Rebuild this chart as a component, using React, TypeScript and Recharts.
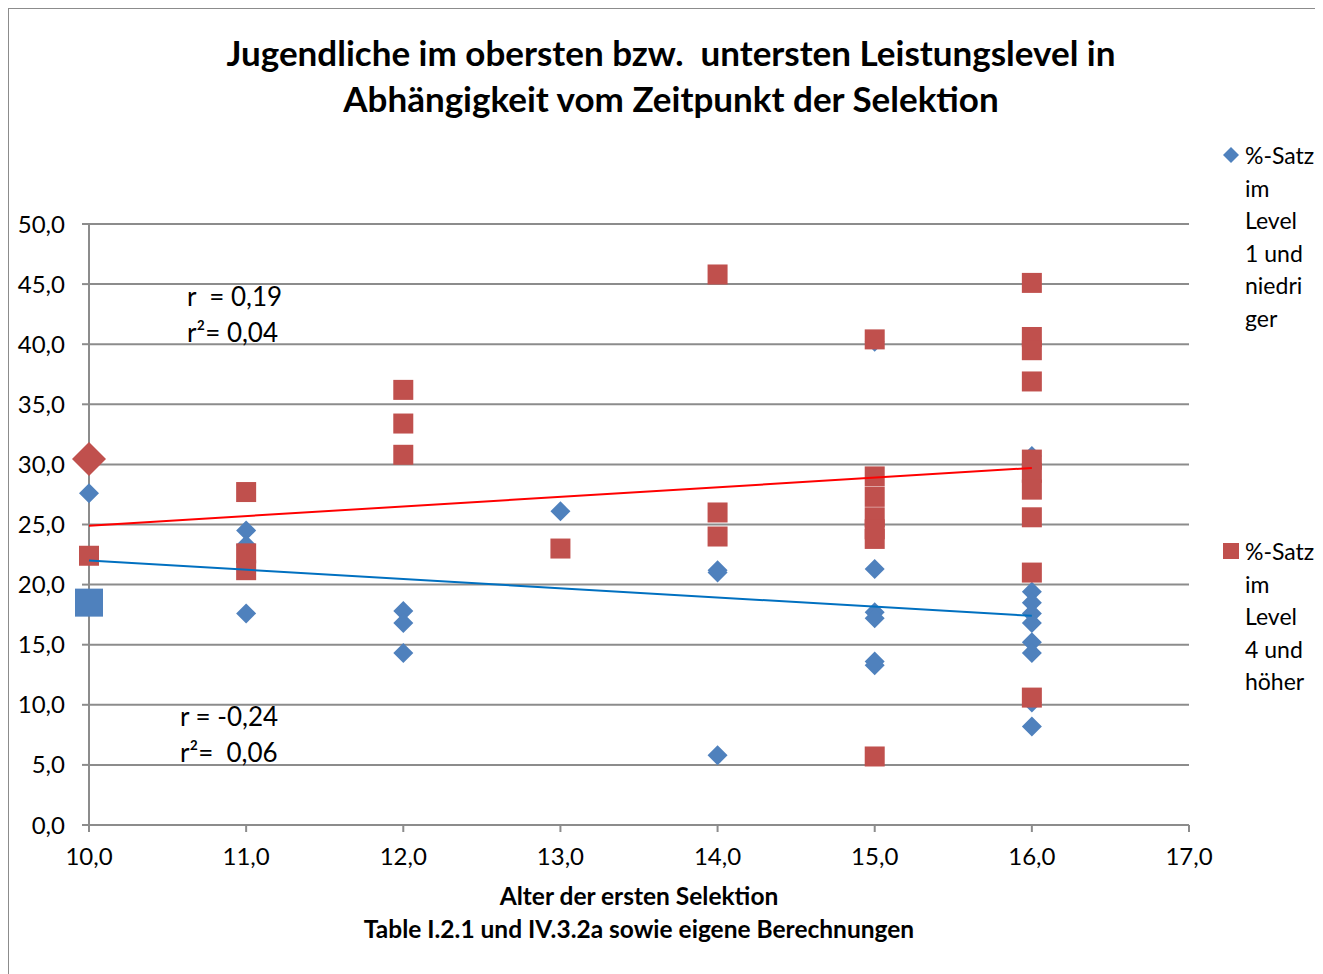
import * as React from "react";
import { ComposedChart, Scatter, XAxis, YAxis, CartesianGrid } from "recharts";

// Alter der ersten Selektion (x) und %-Satz (y), je Land ein Punkt
const level1Ages = [10, 11, 11, 11, 12, 12, 12, 13, 14, 14, 14, 15, 15, 15, 15, 15, 15, 16, 16, 16, 16, 16, 16, 16, 16, 16];
const level1Values = [27.6, 24.5, 23.3, 17.6, 17.8, 16.8, 14.3, 26.1, 21.2, 21.0, 5.8, 40.2, 21.3, 17.7, 17.2, 13.6, 13.3, 30.7, 19.4, 18.5, 17.6, 16.8, 15.2, 14.3, 10.2, 8.2];

const level4Ages = [10, 11, 11, 11, 12, 12, 12, 13, 14, 14, 14, 15, 15, 15, 15, 15, 15, 15, 16, 16, 16, 16, 16, 16, 16, 16, 16, 16];
const level4Values = [22.4, 27.7, 22.6, 21.2, 36.2, 33.4, 30.8, 23.0, 45.8, 26.0, 24.0, 40.4, 29.0, 27.3, 25.6, 24.6, 23.8, 5.7, 45.1, 40.6, 39.5, 36.9, 30.4, 29.3, 27.9, 25.6, 21.0, 10.6];

// hervorgehobene Punkte bei 10,0
const highlightLevel1 = [{ x: 10, y: 18.5 }];
const highlightLevel4 = [{ x: 10, y: 30.45 }];

// lineare Trendlinien
const trendAges = [10, 16];
const trendLevel1 = [22.0, 17.4];
const trendLevel4 = [24.9, 29.7];

const xTicks = [10, 11, 12, 13, 14, 15, 16, 17];
const yTicks = [0, 5, 10, 15, 20, 25, 30, 35, 40, 45, 50];

const BLUE = "#4F81BD";
const RED = "#C0504D";
const GRID = "#8c8c8c";
const FONT = "Lato, 'Open Sans', sans-serif";

const zip = (xs: number[], ys: number[]) => xs.map((x, i) => ({ x, y: ys[i] }));

const level1Data = zip(level1Ages, level1Values);
const level4Data = zip(level4Ages, level4Values);
const trend1Data = zip(trendAges, trendLevel1);
const trend4Data = zip(trendAges, trendLevel4);

const fmt = (v: number) => v.toFixed(1).replace(".", ",");

const diamond = (r: number, fill: string) => (props: any) => {
  const { cx, cy } = props;
  return (
    <polygon
      points={`${cx},${cy - r} ${cx + r},${cy} ${cx},${cy + r} ${cx - r},${cy}`}
      fill={fill}
    />
  );
};

const square = (s: number, fill: string) => (props: any) => {
  const { cx, cy } = props;
  return <rect x={cx - s / 2} y={cy - s / 2} width={s} height={s} fill={fill} />;
};

const noDot = () => <g />;

const legendLines1 = ["%-Satz", "im", "Level", "1 und", "niedri", "ger"];
const legendLines4 = ["%-Satz", "im", "Level", "4 und", "höher"];

export default function App() {
  const tickStyle = { fontSize: 24, fill: "#000", fontFamily: FONT };
  return (
    <div
      style={{
        position: "relative",
        width: 1315,
        height: 966,
        borderLeft: `1px solid ${GRID}`,
        borderTop: `1px solid ${GRID}`,
        background: "#fff",
        fontFamily: FONT,
        color: "#000",
        overflow: "hidden",
      }}
    >
      <div
        style={{
          position: "absolute",
          left: 162,
          top: 20,
          width: 1000,
          textAlign: "center",
          fontWeight: 700,
          fontSize: 35,
          lineHeight: "46px",
          whiteSpace: "pre",
        }}
      >
        {"Jugendliche im obersten bzw.  untersten Leistungslevel in\nAbhängigkeit vom Zeitpunkt der Selektion"}
      </div>

      <ComposedChart
        width={1314}
        height={965}
        margin={{ top: 215, right: 134, bottom: 119, left: 20 }}
        style={{ position: "absolute", left: 0, top: 0 }}
      >
        <CartesianGrid horizontal vertical={false} stroke={GRID} strokeWidth={2} />
        <XAxis
          type="number"
          dataKey="x"
          domain={[10, 17]}
          ticks={xTicks}
          tickFormatter={fmt}
          stroke={GRID}
          strokeWidth={2}
          tickSize={7}
          tickMargin={16}
          tick={tickStyle}
          height={30}
          allowDuplicatedCategory={false}
        />
        <YAxis
          type="number"
          dataKey="y"
          domain={[0, 50]}
          ticks={yTicks}
          tickFormatter={fmt}
          stroke={GRID}
          strokeWidth={2}
          tickSize={7}
          tickMargin={17}
          tick={tickStyle}
          width={60}
        />
        <Scatter data={level1Data} shape={diamond(10, BLUE)} isAnimationActive={false} />
        <Scatter data={level4Data} shape={square(20, RED)} isAnimationActive={false} />
        <Scatter data={highlightLevel4} shape={diamond(17, RED)} isAnimationActive={false} />
        <Scatter data={highlightLevel1} shape={square(28, BLUE)} isAnimationActive={false} />
        <Scatter
          data={trend4Data}
          line={{ stroke: "#FF0000", strokeWidth: 2 }}
          shape={noDot}
          isAnimationActive={false}
        />
        <Scatter
          data={trend1Data}
          line={{ stroke: "#0070C0", strokeWidth: 2 }}
          shape={noDot}
          isAnimationActive={false}
        />
      </ComposedChart>

      <div style={{ position: "absolute", left: 178, top: 269, fontSize: 26, lineHeight: "36px", whiteSpace: "pre" }}>
        {"r  = 0,19\nr²= 0,04"}
      </div>
      <div style={{ position: "absolute", left: 171, top: 689, fontSize: 26, lineHeight: "36px", whiteSpace: "pre" }}>
        {"r = -0,24\nr²=  0,06"}
      </div>

      <svg style={{ position: "absolute", left: 1214, top: 138 }} width={16} height={16}>
        <polygon points="8,0 16,8 8,16 0,8" fill={BLUE} />
      </svg>
      <div style={{ position: "absolute", left: 1236, top: 130, fontSize: 23, lineHeight: "32.6px" }}>
        {legendLines1.map((l) => (
          <div key={l}>{l}</div>
        ))}
      </div>
      <svg style={{ position: "absolute", left: 1214, top: 534 }} width={16} height={16}>
        <rect x={0} y={0} width={16} height={16} fill={RED} />
      </svg>
      <div style={{ position: "absolute", left: 1236, top: 526, fontSize: 23, lineHeight: "32.6px" }}>
        {legendLines4.map((l) => (
          <div key={l}>{l}</div>
        ))}
      </div>

      <div
        style={{
          position: "absolute",
          left: 130,
          top: 870,
          width: 1000,
          textAlign: "center",
          fontWeight: 700,
          fontSize: 24.5,
          lineHeight: "33px",
          whiteSpace: "pre",
        }}
      >
        {"Alter der ersten Selektion\nTable I.2.1 und IV.3.2a sowie eigene Berechnungen"}
      </div>
    </div>
  );
}
